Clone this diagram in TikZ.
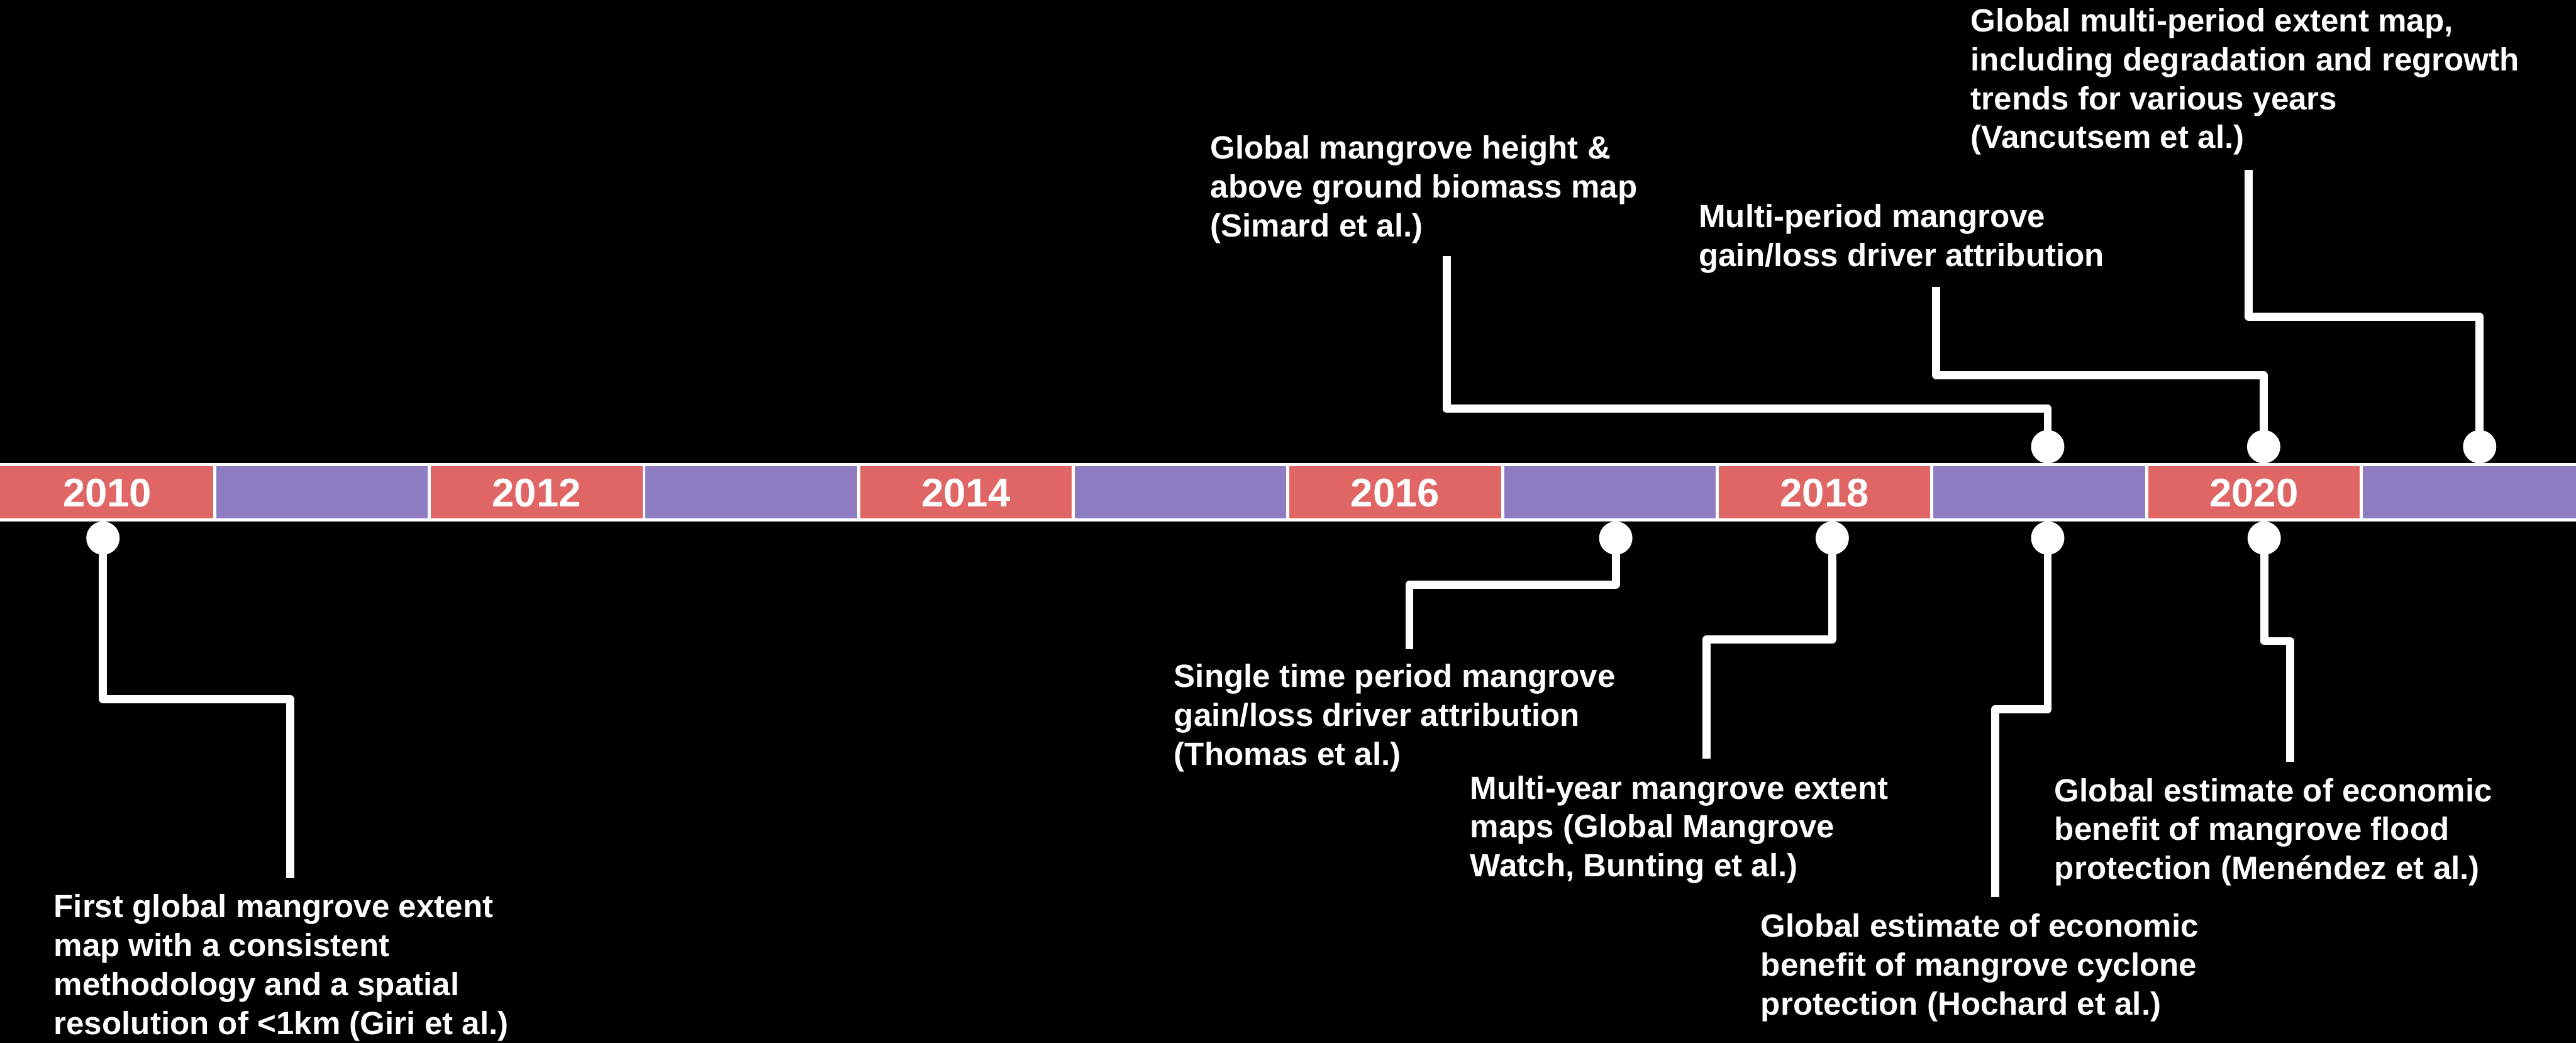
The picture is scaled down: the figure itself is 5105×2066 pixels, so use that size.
\documentclass[tikz,border=0pt]{standalone}
\usepackage{fontspec}
\setmainfont{Liberation Sans}
\definecolor{segred}{HTML}{E06666}
\definecolor{segpurple}{HTML}{8E7CC3}
\begin{document}
\begin{tikzpicture}[x=0.01cm,y=-0.01cm,
  seg/.style={draw=white,line width=1.75pt},
  yearlabel/.style={text=white,font=\bfseries\fontsize{22.5}{27}\selectfont,inner sep=0pt,anchor=base},
  dot/.style={circle,fill=white,minimum size=0.66cm,inner sep=0pt},
  conn/.style={draw=white,line width=4.55pt,line join=round},
  % multi-line texts: the base anchor sits on the last line
  event/.style={text=white,font=\bfseries\fontsize{18.12}{21.9}\selectfont,align=left,inner sep=0pt,anchor=base west}]
  % background and page size
  \fill[black] (0,0) rectangle (5105,2066);
  \useasboundingbox (0,0) rectangle (5105,2066);

  % timeline bar: alternating year / gap segments
  \foreach \i in {0,2,4,6,8,10}{
    \path[seg,fill=segred] ({\i*425.4},920) rectangle ({(\i+1)*425.4},1030);
    \path[seg,fill=segpurple] ({(\i+1)*425.4},920) rectangle ({(\i+2)*425.4},1030);
  }
  \path[seg,fill=segred] (-10,920) rectangle (425.4,1030);
  \path[seg,fill=segpurple] (4679.5,920) rectangle (5120,1030);
  \foreach \i/\yr in {0/2010,2/2012,4/2014,6/2016,8/2018,10/2020}
    \node[yearlabel] (y\yr) at ({(\i+0.5)*425.4},1004) {\yr};

  % connectors
  \draw[conn] (204,1066) |- (575,1385) -- (575,1740);
  \draw[conn] (3202,1066) |- (2793,1158) -- (2793,1286);
  \draw[conn] (3631,1066) |- (3382,1267) -- (3382,1503);
  \draw[conn] (4058,1066) |- (3954,1405) -- (3954,1777);
  \draw[conn] (4487,1066) |- (4538,1270) -- (4538,1509);
  \draw[conn] (4058,885) |- (2867,810) -- (2867,507);
  \draw[conn] (4486,885) |- (3837,743) -- (3837,568);
  \draw[conn] (4914,885) |- (4456,628) -- (4456,336);

  % event markers
  \node[dot] (dA) at (204,1066) {};
  \node[dot] (dB) at (3202,1066) {};
  \node[dot] (dC) at (3631,1066) {};
  \node[dot] (dD) at (4058,1066) {};
  \node[dot] (dE) at (4487,1066) {};
  \node[dot] (dF) at (4058,885) {};
  \node[dot] (dG) at (4486,885) {};
  \node[dot] (dH) at (4914,885) {};

  % event descriptions (placed by the baseline of their last line)
  \node[event] (tA) at (106,2049) {First global mangrove extent\\map with a consistent\\methodology and a spatial\\resolution of <1km (Giri et al.)};
  \node[event] (tB) at (2326,1516) {Single time period mangrove\\gain/loss driver attribution\\(Thomas et al.)};
  \node[event] (tC) at (2913,1737) {Multi-year mangrove extent\\maps (Global Mangrove\\Watch, Bunting et al.)};
  \node[event] (tD) at (3489,2011) {Global estimate of economic\\benefit of mangrove cyclone\\protection (Hochard et al.)};
  \node[event] (tE) at (4071,1742) {Global estimate of economic\\benefit of mangrove flood\\protection (Menéndez et al.)};
  \node[event] (tF) at (2398,469) {Global mangrove height \&\\above ground biomass map\\(Simard et al.)};
  \node[event] (tG) at (3366,528) {Multi-period mangrove\\gain/loss driver attribution};
  \node[event] (tH) at (3905,294) {Global multi-period extent map,\\including degradation and regrowth\\trends for various years\\(Vancutsem et al.)};
\end{tikzpicture}
\end{document}
